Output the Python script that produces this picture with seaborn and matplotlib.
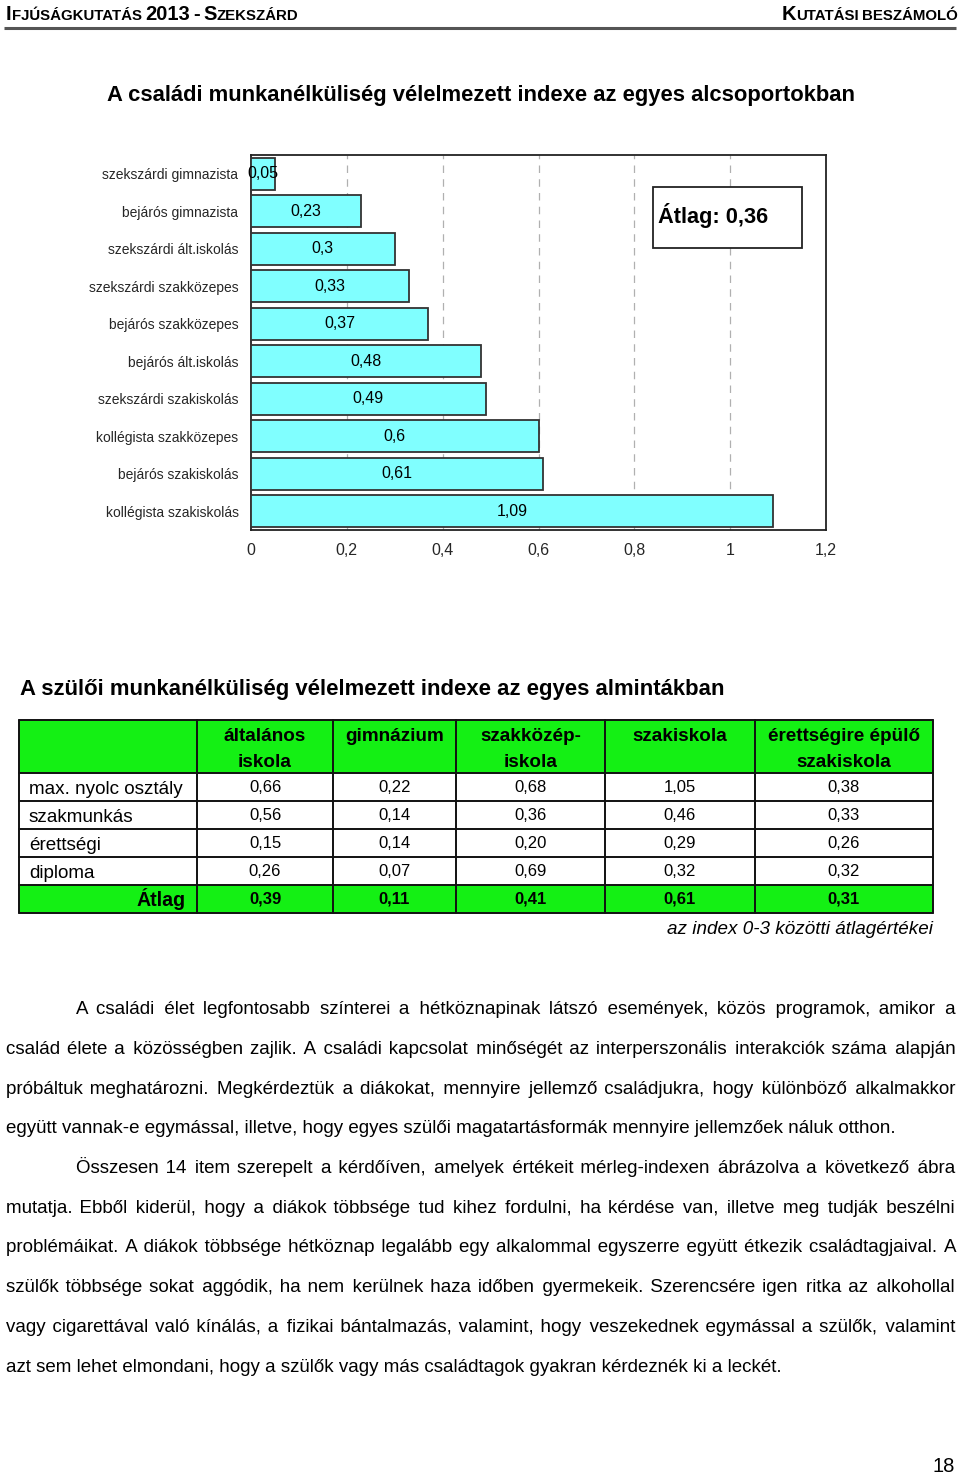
import matplotlib
matplotlib.use("Agg")
import matplotlib.pyplot as plt
import seaborn as sns
import pandas as pd
from matplotlib.patches import Rectangle
from matplotlib import font_manager

# ---------------- data ----------------
categories = ["szekszárdi gimnazista", "bejárós gimnazista", "szekszárdi ált.iskolás",
              "szekszárdi szakközepes", "bejárós szakközepes", "bejárós ált.iskolás",
              "szekszárdi szakiskolás", "kollégista szakközepes", "bejárós szakiskolás",
              "kollégista szakiskolás"]
values = [0.05, 0.23, 0.30, 0.33, 0.37, 0.48, 0.49, 0.60, 0.61, 1.09]
value_labels = ["0,05", "0,23", "0,3", "0,33", "0,37", "0,48", "0,49", "0,6", "0,61", "1,09"]
x_ticks = [0, 0.2, 0.4, 0.6, 0.8, 1.0, 1.2]
x_tick_labels = ["0", "0,2", "0,4", "0,6", "0,8", "1", "1,2"]
average_label = "Átlag: 0,36"
chart_title = "A családi munkanélküliség vélelmezett indexe az egyes alcsoportokban"

table_title = "A szülői munkanélküliség vélelmezett indexe az egyes almintákban"
table_columns = ["általános\niskola", "gimnázium", "szakközép-\niskola", "szakiskola",
                 "érettségire épülő\nszakiskola"]
table_rows = ["max. nyolc osztály", "szakmunkás", "érettségi", "diploma"]
col_altalanos = [0.66, 0.56, 0.15, 0.26]
col_gimnazium = [0.22, 0.14, 0.14, 0.07]
col_szakkozep = [0.68, 0.36, 0.20, 0.69]
col_szakiskola = [1.05, 0.46, 0.29, 0.32]
col_erettsegi = [0.38, 0.33, 0.26, 0.32]
avg_label = "Átlag"
table_avg = [0.39, 0.11, 0.41, 0.61, 0.31]
table_note = "az index 0-3 közötti átlagértékei"

para_lines = [
    "A családi élet legfontosabb színterei a hétköznapinak látszó események, közös programok, amikor a",
    "család élete a közösségben zajlik. A családi kapcsolat minőségét az interperszonális interakciók száma alapján",
    "próbáltuk meghatározni. Megkérdeztük a diákokat, mennyire jellemző családjukra, hogy különböző alkalmakkor",
    "együtt vannak-e egymással, illetve, hogy egyes szülői magatartásformák mennyire jellemzőek náluk otthon.",
    "Összesen 14 item szerepelt a kérdőíven, amelyek értékeit mérleg-indexen ábrázolva a következő ábra",
    "mutatja. Ebből kiderül, hogy a diákok többsége tud kihez fordulni, ha kérdése van, illetve meg tudják beszélni",
    "problémáikat. A diákok többsége hétköznap legalább egy alkalommal egyszerre együtt étkezik családtagjaival. A",
    "szülők többsége sokat aggódik, ha nem kerülnek haza időben gyermekeik. Szerencsére igen ritka az alkohollal",
    "vagy cigarettával való kínálás, a fizikai bántalmazás, valamint, hogy veszekednek egymással a szülők, valamint",
    "azt sem lehet elmondani, hogy a szülők vagy más családtagok gyakran kérdeznék ki a leckét.",
]
para_indent = [True, False, False, False, True, False, False, False, False, False]
para_justify = [True, True, True, False, True, True, True, True, True, False]
page_number = "18"

# ---------------- style ----------------
sns.set_theme(style="white")
names = {f.name for f in font_manager.fontManager.ttflist}
NARROW = "Liberation Sans Narrow" if "Liberation Sans Narrow" in names else "Liberation Sans"
plt.rcParams["font.family"] = [NARROW, "DejaVu Sans"]
plt.rcParams["text.color"] = "black"

W, H = 960, 1477
fig = plt.figure(figsize=(W / 100, H / 100), dpi=100)
fig.patch.set_facecolor("white")

ov = fig.add_axes([0, 0, 1, 1])
ov.set_xlim(0, W)
ov.set_ylim(H, 0)
ov.axis("off")
ov.patch.set_visible(False)
ov.set_zorder(10)
r = fig.canvas.get_renderer()


def width_of(t):
    return t.get_window_extent(r).width


def measure(s, size, **kw):
    t = ov.text(0, 0, s, fontsize=size, **kw)
    w = width_of(t)
    t.remove()
    return w


def fit(s, target, size0=12, **kw):
    return size0 * target / measure(s, size0, **kw)


def runs(x, y, parts, ha="left", weight="bold", gap=4):
    ts, ws = [], []
    for s, sz, g in parts:
        t = ov.text(0, y, s, fontsize=sz, fontweight=weight, va="baseline", ha="left")
        ts.append(t)
        ws.append(width_of(t))
    total = sum(ws) + sum(g for _, _, g in parts) * gap
    cur = x if ha == "left" else x - total
    for t, w, (_, _, g) in zip(ts, ws, parts):
        cur += g * gap
        t.set_x(cur)
        cur += w


# ---------------- header ----------------
BIG, SMALL = 14.5, 10.8
runs(6, 20, [("I", BIG, 0), ("FJÚSÁGKUTATÁS", SMALL, 0), ("2013", BIG, 1), ("-", BIG, 1),
             ("S", BIG, 1), ("ZEKSZÁRD", SMALL, 0)], gap=3.5)
runs(958, 20, [("K", BIG, 0), ("UTATÁSI", SMALL, 0), ("BESZÁMOLÓ", SMALL, 1)], ha="right", gap=3.5)
ov.plot([4, 956], [27.5, 27.5], color="#555555", lw=2.2, solid_capstyle="butt")

# ---------------- chart title ----------------
s_title = fit(chart_title, 743, fontweight="bold")
ov.text(481, 95, chart_title, fontsize=s_title, fontweight="bold", ha="center", va="center")

# ---------------- bar chart ----------------
L, R, T, B = 251, 826, 155, 530
ax = fig.add_axes([L / W, 1 - B / H, (R - L) / W, (B - T) / H])
df = pd.DataFrame({"category": categories, "value": values})
sns.barplot(data=df, x="value", y="category", orient="h", color="#80FFFF", saturation=1,
            edgecolor="#333333", linewidth=1.3, width=0.85, ax=ax, zorder=3)
s_ylab = fit("szekszárdi gimnazista", 136)
ax.set_xlim(0, 1.2)
ax.set_ylim(len(categories) - 0.5, -0.5)
ax.set_xticks(x_ticks)
ax.set_xticklabels(x_tick_labels, fontsize=11.5)
ax.set_yticks(range(len(categories)))
ax.set_yticklabels(categories, fontsize=s_ylab)
ax.set_xlabel("")
ax.set_ylabel("")
ax.tick_params(axis="both", length=0)
ax.tick_params(axis="y", pad=9)
ax.tick_params(axis="x", pad=9.5)
for xv in x_ticks[1:-1]:
    ax.axvline(xv, color="#b0b0b0", lw=0.9, ls=(0, (6, 5)), zorder=1)
for s in ax.spines.values():
    s.set_visible(True)
    s.set_color("#222222")
    s.set_linewidth(1.3)
for i, (v, lab) in enumerate(zip(values, value_labels)):
    ax.text(v / 2, i, lab, ha="center", va="center", fontsize=11.5, zorder=4)

# average box
s_avg = fit(average_label, 110, fontweight="bold")
ov.add_patch(Rectangle((653, 187), 149, 61, facecolor="white", edgecolor="#222222", lw=1.3, zorder=5))
ov.text(658, 216, average_label, fontsize=s_avg, fontweight="bold", ha="left", va="center", zorder=6)

# ---------------- table ----------------
s_ttitle = fit(table_title, 702, fontweight="bold")
ov.text(20, 690, table_title, fontsize=s_ttitle, fontweight="bold", ha="left", va="center")
col_x = [19, 197, 333, 456, 605, 755, 933]
row_y = [720, 773, 801, 829, 857, 885, 913]
GREEN = "#14F014"
ov.add_patch(Rectangle((col_x[0], row_y[0]), col_x[-1] - col_x[0], row_y[1] - row_y[0],
                       facecolor=GREEN, edgecolor="none", zorder=1))
ov.add_patch(Rectangle((col_x[0], row_y[5]), col_x[-1] - col_x[0], row_y[6] - row_y[5],
                       facecolor=GREEN, edgecolor="none", zorder=1))
for yv in row_y:
    ov.plot([col_x[0], col_x[-1]], [yv, yv], color="#111111", lw=1.4, zorder=2)
for xv in col_x:
    ov.plot([xv, xv], [row_y[0], row_y[-1]], color="#111111", lw=1.4, zorder=2)

s_head = fit("érettségire épülő", 152, fontweight="bold")
for j, head in enumerate(table_columns):
    cx = (col_x[j + 1] + col_x[j + 2]) / 2
    for k, part in enumerate(head.split("\n")):
        ov.text(cx, 741 + 26 * k, part, fontsize=s_head, fontweight="bold", ha="center",
                va="baseline", zorder=3)

s_row = fit("max. nyolc osztály", 155)
cols = [col_altalanos, col_gimnazium, col_szakkozep, col_szakiskola, col_erettsegi]
fmt = lambda v: f"{v:.2f}".replace(".", ",")
for i, rl in enumerate(table_rows):
    cy = (row_y[i + 1] + row_y[i + 2]) / 2
    ov.text(29, cy + 7, rl, fontsize=s_row, ha="left", va="baseline", zorder=3)
    for j, col in enumerate(cols):
        cx = (col_x[j + 1] + col_x[j + 2]) / 2
        ov.text(cx, cy, fmt(col[i]), fontsize=12, ha="center", va="center", zorder=3)
cy = (row_y[5] + row_y[6]) / 2
ov.text(186, cy + 7, avg_label, fontsize=s_head + 0.5, fontweight="bold", ha="right", va="baseline", zorder=3)
for j, v in enumerate(table_avg):
    cx = (col_x[j + 1] + col_x[j + 2]) / 2
    ov.text(cx, cy, fmt(v), fontsize=12, fontweight="bold", ha="center", va="center", zorder=3)
s_note = fit(table_note, 266, fontstyle="italic")
ov.text(933, 929, table_note, fontsize=s_note, fontstyle="italic", ha="right", va="center")

# ---------------- paragraph text ----------------
PSIZE = fit(para_lines[-1], 783, size0=14.0)
HAIR = "\u200a"
hair_w = measure("a" + HAIR * 10 + "a", PSIZE) - measure("aa", PSIZE)
hair_w /= 10.0

line_y = [1008, 1048, 1088, 1127, 1167, 1207, 1246, 1286, 1326, 1366]
X0, X1, IND = 6, 955, 76
for y, line, ind, just in zip(line_y, para_lines, para_indent, para_justify):
    x0 = IND if ind else X0
    words = line.split(" ")
    text = line
    if just and hair_w > 0.2:
        nat = measure(line, PSIZE)
        extra = (X1 - x0) - nat
        n_hair = max(0, int(round(extra / hair_w)))
        n_gap = len(words) - 1
        parts = [words[0]]
        for g in range(n_gap):
            k = (n_hair * (g + 1)) // n_gap - (n_hair * g) // n_gap
            parts.append(" " + HAIR * k + words[g + 1])
        text = "".join(parts)
    ov.text(x0, y + 6, text, fontsize=PSIZE, ha="left", va="baseline")

ov.text(955, 1467, page_number, fontsize=14.5, ha="right", va="center")

fig.savefig("out.png", dpi=100, facecolor="white")
